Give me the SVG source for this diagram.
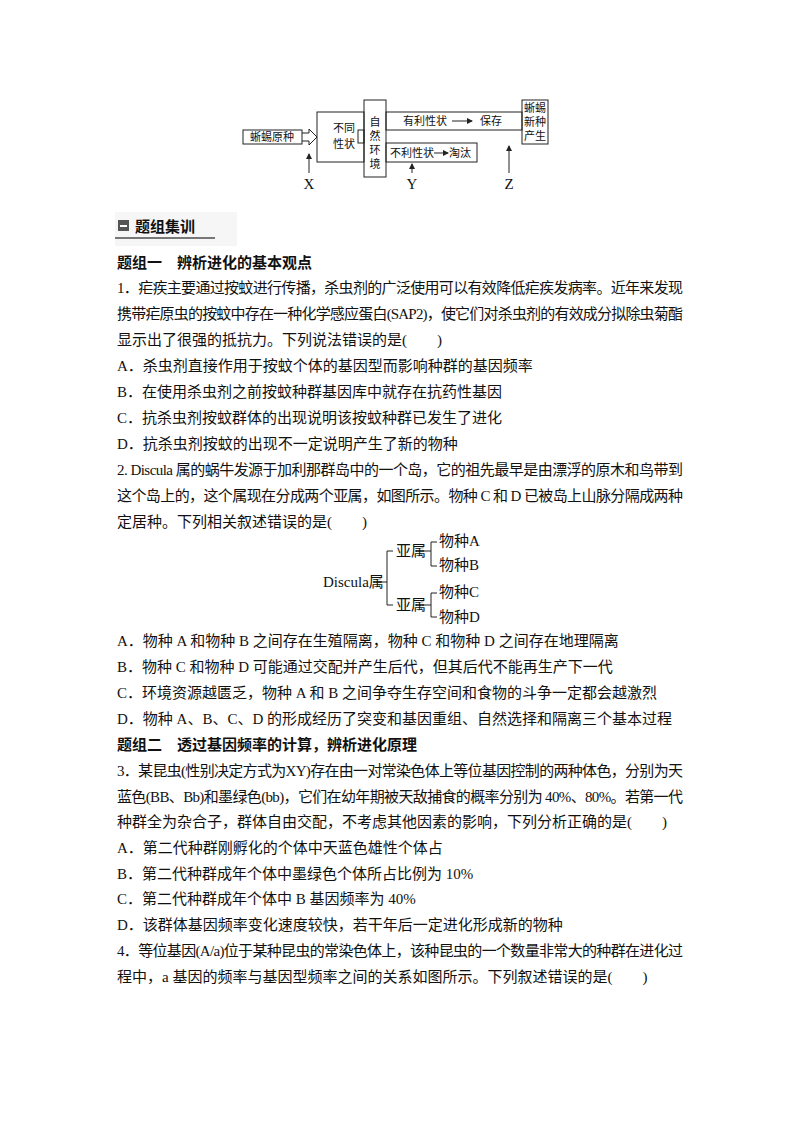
<svg xmlns="http://www.w3.org/2000/svg" width="800" height="1132" viewBox="0 0 800 1132">
<style>
text{font-family:"Liberation Serif","Noto Sans CJK SC",serif;font-size:15px;fill:#111}
.s{font-size:11px}
.b{font-weight:bold;font-family:"Noto Sans CJK SC",sans-serif}
.ln{stroke:#222;stroke-width:1;fill:none}
</style>
<defs><marker id="ah" markerWidth="6" markerHeight="6" refX="5" refY="3" orient="auto"><path d="M0,0L6,3L0,6z" fill="#222"/></marker></defs>
<rect width="800" height="1132" fill="#fff"/>
<g id="top-diagram">
<g id="n-origin"><rect x="243" y="130" width="59" height="14" class="ln"/><text x="272" y="141" class="s" text-anchor="middle">蜥蜴原种</text></g>
<path d="M302,133H309V129L317,137L309,145V141H302" class="ln"/>
<g id="n-traits"><rect x="317" y="112" width="47" height="50" class="ln"/><text x="344" y="132" class="s" text-anchor="middle">不同</text><text x="344" y="148" class="s" text-anchor="middle">性状</text><rect x="358" y="130" width="6" height="13" class="ln"/></g>
<g id="n-env"><rect x="364" y="100" width="22" height="77" class="ln"/><text x="375" y="126" class="s" text-anchor="middle">自</text><text x="375" y="140" class="s" text-anchor="middle">然</text><text x="375" y="154" class="s" text-anchor="middle">环</text><text x="375" y="168" class="s" text-anchor="middle">境</text></g>
<g id="n-good"><rect x="386" y="112" width="136" height="18" class="ln"/><text x="403" y="125" class="s">有利性状</text><text x="480" y="125" class="s">保存</text><line x1="452" y1="121" x2="472" y2="121" class="ln" marker-end="url(#ah)"/></g>
<g id="n-bad"><rect x="386" y="143" width="91" height="19" class="ln"/><text x="390" y="157" class="s">不利性状</text><text x="449" y="157" class="s">淘汰</text><line x1="434" y1="153" x2="448" y2="153" class="ln" marker-end="url(#ah)"/></g>
<g id="n-new"><rect x="522" y="100" width="26" height="44" class="ln"/><text x="535" y="112" class="s" text-anchor="middle">蜥蜴</text><text x="535" y="126" class="s" text-anchor="middle">新种</text><text x="535" y="140" class="s" text-anchor="middle">产生</text></g>
<g id="connectors-top">
<line x1="309" y1="173" x2="309" y2="154" class="ln" marker-end="url(#ah)"/>
<line x1="412" y1="173" x2="412" y2="164" class="ln" marker-end="url(#ah)"/>
<line x1="509" y1="173" x2="509" y2="146" class="ln" marker-end="url(#ah)"/>
</g>
<text x="309" y="189" text-anchor="middle" font-size="13">X</text>
<text x="412" y="189" text-anchor="middle" font-size="13">Y</text>
<text x="509" y="189" text-anchor="middle" font-size="13">Z</text>
</g>
<g id="header">
<rect x="115" y="212" width="122" height="34" fill="#f6f6f6"/>
<rect x="118" y="220" width="11" height="11" fill="#555"/><rect x="120" y="225" width="7" height="2" fill="#fff"/>
<text x="135" y="232" class="b" font-size="16">题组集训</text>
<line x1="115" y1="238" x2="215" y2="238" stroke="#777" stroke-width="2"/>
</g>
<g id="body">
<text x="117" y="268" class="b">题组一　辨析进化的基本观点</text>
<text x="117" y="293" textLength="566" lengthAdjust="spacing">1．疟疾主要通过按蚊进行传播，杀虫剂的广泛使用可以有效降低疟疾发病率。近年来发现</text>
<text x="117" y="319" textLength="566" lengthAdjust="spacing">携带疟原虫的按蚊中存在一种化学感应蛋白(SAP2)，使它们对杀虫剂的有效成分拟除虫菊酯</text>
<text x="117" y="345">显示出了很强的抵抗力。下列说法错误的是(　　)</text>
<text x="117" y="371">A．杀虫剂直接作用于按蚊个体的基因型而影响种群的基因频率</text>
<text x="117" y="397">B．在使用杀虫剂之前按蚊种群基因库中就存在抗药性基因</text>
<text x="117" y="423">C．抗杀虫剂按蚊群体的出现说明该按蚊种群已发生了进化</text>
<text x="117" y="449">D．抗杀虫剂按蚊的出现不一定说明产生了新的物种</text>
<text x="117" y="475" textLength="566" lengthAdjust="spacing">2. Discula 属的蜗牛发源于加利那群岛中的一个岛，它的祖先最早是由漂浮的原木和鸟带到</text>
<text x="117" y="501" textLength="566" lengthAdjust="spacing">这个岛上的，这个属现在分成两个亚属，如图所示。物种 C 和 D 已被岛上山脉分隔成两种</text>
<text x="117" y="527">定居种。下列相关叙述错误的是(　　)</text>
<g id="tree">
<text x="323" y="587" font-size="12">Discula属</text>
<text x="396" y="556" font-size="12">亚属</text>
<text x="396" y="610" font-size="12">亚属</text>
<text x="439" y="546" font-size="12">物种A</text>
<text x="439" y="570" font-size="12">物种B</text>
<text x="439" y="597" font-size="12">物种C</text>
<text x="439" y="622" font-size="12">物种D</text>
<g id="connectors-tree" class="ln">
<path d="M376,582H387M393,551H387V605H393"/>
<path d="M424,551H431M437,542H431V566H437"/>
<path d="M424,605H431M437,593H431V617H437"/>
</g>
</g>
<text x="117" y="646">A．物种 A 和物种 B 之间存在生殖隔离，物种 C 和物种 D 之间存在地理隔离</text>
<text x="117" y="672">B．物种 C 和物种 D 可能通过交配并产生后代，但其后代不能再生产下一代</text>
<text x="117" y="698">C．环境资源越匮乏，物种 A 和 B 之间争夺生存空间和食物的斗争一定都会越激烈</text>
<text x="117" y="724">D．物种 A、B、C、D 的形成经历了突变和基因重组、自然选择和隔离三个基本过程</text>
<text x="117" y="750" class="b">题组二　透过基因频率的计算，辨析进化原理</text>
<text x="117" y="776" textLength="566" lengthAdjust="spacing">3．某昆虫(性别决定方式为XY)存在由一对常染色体上等位基因控制的两种体色，分别为天</text>
<text x="117" y="802" textLength="566" lengthAdjust="spacing">蓝色(BB、Bb)和墨绿色(bb)，它们在幼年期被天敌捕食的概率分别为 40%、80%。若第一代</text>
<text x="117" y="827">种群全为杂合子，群体自由交配，不考虑其他因素的影响，下列分析正确的是(　　)</text>
<text x="117" y="853">A．第二代种群刚孵化的个体中天蓝色雄性个体占</text>
<text x="117" y="879">B．第二代种群成年个体中墨绿色个体所占比例为 10%</text>
<text x="117" y="904">C．第二代种群成年个体中 B 基因频率为 40%</text>
<text x="117" y="930">D．该群体基因频率变化速度较快，若干年后一定进化形成新的物种</text>
<text x="117" y="956" textLength="566" lengthAdjust="spacing">4．等位基因(A/a)位于某种昆虫的常染色体上，该种昆虫的一个数量非常大的种群在进化过</text>
<text x="117" y="982">程中，a 基因的频率与基因型频率之间的关系如图所示。下列叙述错误的是(　　)</text>
</g>
</svg>
